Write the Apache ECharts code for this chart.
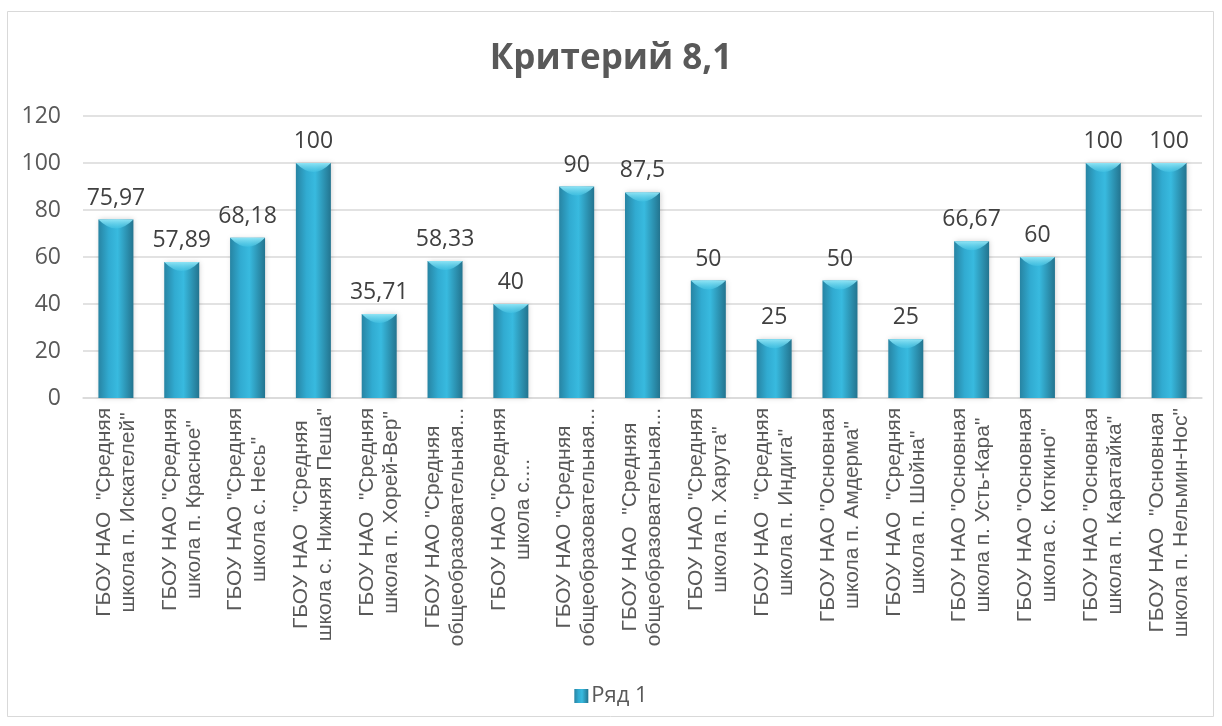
<!DOCTYPE html>
<html>
<head>
<meta charset="utf-8">
<script src="https://cdn.jsdelivr.net/npm/echarts@6/dist/echarts.min.js"></script>
<style>
  html, body { margin: 0; padding: 0; background: #fff; }
  #chart { width: 1222px; height: 726px; }
</style>
</head>
<body>
<div id="chart"></div>
<script>
  // данные
  var titleText = 'Критерий 8,1';
  var seriesName = 'Ряд 1';
  var categories = [
    'ГБОУ НАО  "Средняя\nшкола п. Искателей"',
    'ГБОУ НАО "Средняя\nшкола п. Красное"',
    'ГБОУ НАО "Средняя\nшкола с. Несь"',
    'ГБОУ НАО  "Средняя\nшкола с. Нижняя Пеша"',
    'ГБОУ НАО  "Средняя\nшкола п. Хорей-Вер"',
    'ГБОУ НАО "Средняя\nобщеобразовательная...',
    'ГБОУ НАО "Средняя\nшкола с....',
    'ГБОУ НАО "Средняя\nобщеобразовательная...',
    'ГБОУ НАО  "Средняя\nобщеобразовательная...',
    'ГБОУ НАО "Средняя\nшкола п. Харута"',
    'ГБОУ НАО  "Средняя\nшкола п. Индига"',
    'ГБОУ НАО "Основная\nшкола п. Амдерма"',
    'ГБОУ НАО  "Средняя\nшкола п. Шойна"',
    'ГБОУ НАО "Основная\nшкола п. Усть-Кара"',
    'ГБОУ НАО "Основная\nшкола с. Коткино"',
    'ГБОУ НАО "Основная\nшкола п. Каратайка"',
    'ГБОУ НАО  "Основная\nшкола п. Нельмин-Нос"'
  ];
  var values = [75.97, 57.89, 68.18, 100, 35.71, 58.33, 40, 90, 87.5, 50, 25, 50, 25, 66.67, 60, 100, 100];
  var yMin = 0, yMax = 120, yStep = 20;

  var font = '"Open Sans", "DejaVu Sans", sans-serif';
  var catFont = '"Liberation Sans", Arial, sans-serif';

  var myChart = echarts.init(document.getElementById('chart'));

  var barColor = new echarts.graphic.LinearGradient(0, 0, 1, 0, [
    {offset: 0, color: '#2784a3'},
    {offset: 0.3, color: '#31abd1'},
    {offset: 0.55, color: '#38badf'},
    {offset: 1, color: '#23748f'}
  ]);
  var capColor = new echarts.graphic.LinearGradient(0, 0, 0, 1, [
    {offset: 0, color: '#8fe4f5'},
    {offset: 1, color: 'rgba(70,196,228,0.6)'}
  ]);

  var option = {
    backgroundColor: '#fff',
    animation: false,
    graphic: [{
      type: 'rect',
      shape: {x: 7.5, y: 11.5, width: 1206, height: 705},
      style: {fill: 'none', stroke: '#d9d9d9', lineWidth: 1},
      silent: true
    }],
    title: {
      text: titleText,
      left: 'center',
      top: 37,
      textStyle: {
        fontFamily: font,
        fontSize: 35,
        fontWeight: 'bold',
        color: '#595959'
      }
    },
    legend: {
      bottom: 14,
      left: 'center',
      icon: 'rect',
      itemWidth: 14,
      itemHeight: 14,
      itemGap: 5,
      data: [seriesName],
      textStyle: {fontFamily: font, fontSize: 22, color: '#595959', padding: [0, 0, 0, -2]}
    },
    grid: {
      left: 83,
      right: 20,
      top: 116,
      bottom: 328,
      containLabel: false
    },
    xAxis: {
      type: 'category',
      data: categories,
      axisLine: {lineStyle: {color: '#d9d9d9', width: 1.5}},
      axisTick: {show: false},
      axisLabel: {
        interval: 0,
        rotate: 90,
        margin: 10,
        fontFamily: catFont,
        fontSize: 21,
        color: '#595959',
        lineHeight: 24,
        formatter: function (v) {
          return v.split('\n').map(function (s) { return '{c|' + s + '}'; }).join('\n');
        },
        rich: {
          c: {align: 'center', fontFamily: catFont, fontSize: 21, color: '#595959', lineHeight: 24}
        }
      }
    },
    yAxis: {
      type: 'value',
      min: yMin,
      max: yMax,
      interval: yStep,
      axisLine: {show: false},
      axisTick: {show: false},
      splitLine: {lineStyle: {color: '#d9d9d9', width: 1.5}},
      axisLabel: {
        margin: 22,
        fontFamily: font,
        fontSize: 23,
        color: '#595959'
      }
    },
    series: [{
      name: seriesName,
      type: 'bar',
      data: values,
      barWidth: 35,
      itemStyle: {
        color: barColor,
        shadowColor: 'rgba(0,0,0,0.18)',
        shadowBlur: 5,
        shadowOffsetX: 1
      },
      label: {
        show: true,
        position: 'top',
        distance: 10,
        fontFamily: font,
        fontSize: 23,
        color: '#404040',
        formatter: function (p) {
          return String(p.value).replace('.', ',');
        }
      },
      z: 2
    }, {
      type: 'pictorialBar',
      data: values,
      symbol: 'path://M0 0 L100 0 Q50 70 0 0 Z',
      symbolSize: [35, 9],
      symbolPosition: 'end',
      itemStyle: {color: capColor},
      silent: true,
      z: 3
    }]
  };
  myChart.setOption(option);
</script>
</body>
</html>
